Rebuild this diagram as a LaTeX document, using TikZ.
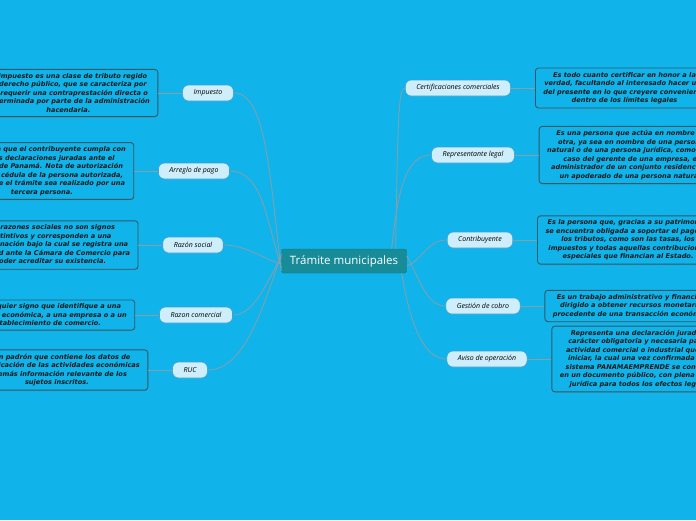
\documentclass[tikz,border=0pt]{standalone}
\usepackage{fontspec}
\setmainfont{Open Sans}
\newfontfamily\descfont{DejaVu Sans}
\usepackage{tikz}
\usetikzlibrary{positioning,shadows}
\definecolor{mapbg}{HTML}{10B4EA}
\definecolor{mapdot}{HTML}{0DA7DB}
\definecolor{rootfill}{HTML}{178B97}
\definecolor{topicfill}{HTML}{CFEEFC}
\definecolor{topicline}{HTML}{3C9ED4}
\definecolor{descline}{HTML}{2E5A68}
\definecolor{linkgray}{HTML}{8A9EA8}

\begin{document}
\begin{tikzpicture}[x=1pt, y=-1pt,
  root/.style={fill=rootfill, draw=rootfill!85!black, rounded corners=2pt,
    minimum width=125pt, minimum height=24pt, text=white,
    font=\fontsize{11.5}{13}\selectfont},
  topic/.style={fill=topicfill, draw=topicline, line width=0.6pt, rounded corners=6pt,
    minimum height=16pt, inner xsep=11pt, inner ysep=0pt,
    font=\fontsize{7}{8}\selectfont\itshape},
  desc/.style={fill=mapbg, draw=descline, line width=0.9pt, rounded corners=3pt,
    align=center, inner xsep=8pt, inner ysep=4pt, text=black!90,
    font=\descfont\fontsize{6.6}{8.5}\selectfont\bfseries\itshape,
    drop shadow={shadow xshift=0.6pt, shadow yshift=-1pt, opacity=0.35}},
  link/.style={draw=linkgray, line width=0.8pt},
  node distance=24pt
]
  % background and dot grid
  \fill[mapbg] (0,0) rectangle (696,520);
  \useasboundingbox (0,0) rectangle (696,520);
  \foreach \gx in {6,18,...,696}
    \foreach \gy in {6,18,...,520}
      \fill[mapdot] (\gx,\gy) circle[radius=0.5pt];

  \node[root] (tram) at (344,261) {Trámite municipales};

  % left topics
  \node[topic] (imp) at (208,93) {Impuesto};
  \node[topic] (arr) at (194,171) {Arreglo de pago};
  \node[topic] (rsoc) at (193,245) {Razón social};
  \node[topic] (rcom) at (196,315) {Razon comercial};
  \node[topic] (ruc) at (190,370) {RUC};

  % right topics
  \node[topic] (cert) at (458,88) {Certificaciones comerciales};
  \node[topic] (rep) at (473,155) {Representante legal};
  \node[topic] (contr) at (480,240) {Contribuyente};
  \node[topic] (gest) at (483,306) {Gestión de cobro};
  \node[topic] (aviso) at (487,359) {Aviso de operación};

  % descriptions
  \node[desc, left=of imp] (impdesc) {El impuesto es una clase de tributo regido\\
    el derecho público, que se caracteriza por\\no requerir una contraprestación directa o\\
    determinada por parte de la administración\\hacendaria.};
  \node[desc, left=of arr] (arrdesc) {Se requiere que el contribuyente cumpla con\\
    todas las declaraciones juradas ante el\\Municipio de Panamá. Nota de autorización\\
    y copia de cédula de la persona autorizada,\\en caso que el trámite sea realizado por una\\
    tercera persona.};
  \node[desc, left=of rsoc] (rsocdesc) {Las razones sociales no son signos\\
    distintivos y corresponden a una\\denominación bajo la cual se registra una\\
    sociedad ante la Cámara de Comercio para\\poder acreditar su existencia.};
  \node[desc, left=of rcom] (rcomdesc) {Es cualquier signo que identifique a una\\
    actividad económica, a una empresa o a un\\establecimiento de comercio.};
  \node[desc, left=of ruc] (rucdesc) {Es un padrón que contiene los datos de\\
    identificación de las actividades económicas\\y demás información relevante de los\\
    sujetos inscritos.};

  \node[desc, right=of cert] (certdesc) {Es todo cuanto certificar en honor a la\\
    verdad, facultando al interesado hacer uso\\del presente en lo que creyere conveniente\\
    dentro de los límites legales};
  \node[desc, right=of rep] (repdesc) {Es una persona que actúa en nombre de\\
    otra, ya sea en nombre de una persona\\natural o de una persona jurídica, como es el\\
    caso del gerente de una empresa, el\\administrador de un conjunto residencial o\\
    un apoderado de una persona natural.};
  \node[desc, right=of contr] (contrdesc) {Es la persona que, gracias a su patrimonio,\\
    se encuentra obligada a soportar el pago de\\los tributos, como son las tasas, los\\
    impuestos y todas aquellas contribuciones\\especiales que financian al Estado.};
  \node[desc, right=of gest] (gestdesc) {Es un trabajo administrativo y financiero\\
    dirigido a obtener recursos monetarios\\procedente de una transacción económica.};
  \node[desc, right=of aviso] (avisodesc) {Representa una declaración jurada de\\
    carácter obligatoria y necesaria para la\\actividad comercial o industrial que va a\\
    iniciar, la cual una vez confirmada en el\\sistema PANAMAEMPRENDE se convierte\\
    en un documento público, con plena validez\\jurídica para todos los efectos legales.};

  % branches from the root
  \draw[link] ([yshift=-10pt]tram.west) .. controls +(-12,-100) and +(32,0) .. (imp.east);
  \draw[link] ([yshift=-7pt]tram.west) .. controls +(-15,-50) and +(32,0) .. (arr.east);
  \draw[link] ([yshift=-3pt]tram.west) .. controls +(-20,-6) and +(22,0) .. (rsoc.east);
  \draw[link] ([yshift=4pt]tram.west) .. controls +(-15,25) and +(22,0) .. (rcom.east);
  \draw[link] ([yshift=7pt]tram.west) .. controls +(-20,60) and +(35,0) .. (ruc.east);

  \draw[link] ([xshift=-11pt]tram.north east) .. controls +(2,-140) and +(-6,0) .. (cert.west);
  \draw[link] ([xshift=-15pt]tram.north east) .. controls +(6,-60) and +(-25,0) .. (rep.west);
  \draw[link] ([yshift=-5pt]tram.east) .. controls +(15,-5) and +(-20,0) .. (contr.west);
  \draw[link] ([yshift=5pt]tram.east) .. controls +(12,20) and +(-20,0) .. (gest.west);
  \draw[link] ([xshift=-5pt]tram.south east) .. controls +(10,60) and +(-20,0) .. (aviso.west);

  % topic to description
  \draw[link] (imp) -- (impdesc);
  \draw[link] (arr) -- (arrdesc);
  \draw[link] (rsoc) -- (rsocdesc);
  \draw[link] (rcom) -- (rcomdesc);
  \draw[link] (ruc) -- (rucdesc);
  \draw[link] (cert) -- (certdesc);
  \draw[link] (rep) -- (repdesc);
  \draw[link] (contr) -- (contrdesc);
  \draw[link] (gest) -- (gestdesc);
  \draw[link] (aviso) -- (avisodesc);
\end{tikzpicture}
\end{document}
